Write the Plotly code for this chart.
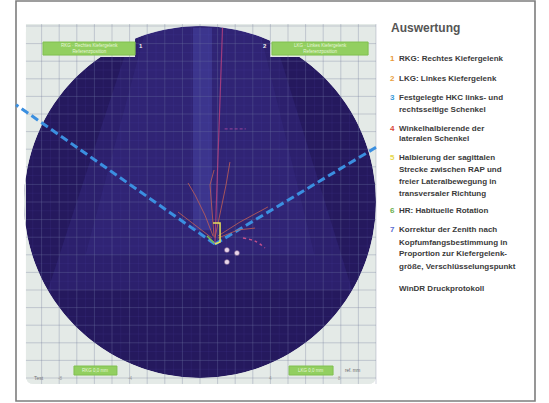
import numpy as np
import plotly.graph_objects as go

# ---------------- data (chart units = mm grid, disk centre at 0,0) ----------------
disk_radius = 10.0
grid_step = 1.0
fine_step = 0.5
panel_x = [-9.89, 10.0]
panel_y = [-10.34, 10.11]
cap_x = [-3.69, 3.98]            # top cap of disk between the label strips
strip_bottom_y = 8.24
vertex = [0.85, -2.39]            # RAP / arrow-point apex
hkc_angles_deg = [145.0, 31.0]    # left and right HKC legs
hkc_end_x = [-10.45, 10.0]
bisector_angle_deg = 88.0
bisector_length = 12.3

# chewing / lateral movement tracings
mov1_x = [0.85, 1.14, 1.48, 1.70]; mov1_y = [-2.05, -0.74, 0.97, 2.27]
mov2_x = [0.74, 0.28, -0.28, -0.68]; mov2_y = [-1.93, -0.74, 0.40, 1.08]
mov3_x = [0.68, -0.28, -1.25]; mov3_y = [-2.05, -1.31, -0.57]
mov4_x = [1.02, 2.27, 3.86]; mov4_y = [-1.93, -1.14, -0.28]
mov5_x = [1.02, 2.16, 3.13]; mov5_y = [-2.05, -1.59, -1.48]
mov6_x = [0.80, 0.68, 0.57, 0.80]; mov6_y = [-1.99, -0.45, 0.97, 1.82]
movements = [(mov1_x, mov1_y), (mov2_x, mov2_y), (mov3_x, mov3_y),
             (mov4_x, mov4_y), (mov5_x, mov5_y), (mov6_x, mov6_y)]

bracket_x = [0.74, 1.14, 1.14, 0.85]; bracket_y = [-1.19, -1.19, -2.27, -2.39]
hr_x = [0.40, 0.80]; hr_y = [-1.93, -2.33]
dots_x = [1.53, 1.53, 2.10]; dots_y = [-2.73, -3.41, -2.90]
curve_x = [2.44, 3.13, 3.69]; curve_y = [-2.05, -2.22, -2.61]
zenith_x = [1.4, 2.6]; zenith_y = [4.15, 4.15]

wedge_x = [-3.69, 3.98, 8.64, -8.64]; wedge_y = [10.11, 10.11, -5.0, -5.0]
wedge2_x = [-3.0, 3.3, 6.5, -6.5]; wedge2_y = [10.11, 10.11, -3.0, -3.0]
band_x = [-0.40, 0.68, 0.68, -0.40]; band_y = [9.9, 9.9, -1.6, -1.6]

label_boxes = [  # x0, x1, y0, y1
    (-8.92, -3.69, 8.35, 9.09), (4.09, 9.55, 8.35, 9.09),
    (-7.16, -4.72, -9.83, -9.32), (5.06, 7.56, -9.83, -9.32)]

legend_title = "Auswertung"
legend_items = [
    ("1", "#e8983a", ["RKG: Rechtes Kiefergelenk"]),
    ("2", "#e8a040", ["LKG: Linkes Kiefergelenk"]),
    ("3", "#3a9ad9", ["Festgelegte HKC links- und", "rechtsseitige Schenkel"]),
    ("4", "#d9453a", ["Winkelhalbierende der", "lateralen Schenkel"]),
    ("5", "#e6d84a", ["Halbierung der sagittalen", "Strecke zwischen RAP und",
                      "freier Lateralbewegung in", "transversaler Richtung"]),
    ("6", "#6ab04c", ["HR: Habituelle Rotation"]),
    ("7", "#5a6ad0", ["Korrektur der Zenith nach", "Kopfumfangsbestimmung in",
                      "Proportion zur Kiefergelenk-", "größe, Verschlüsselungspunkt"]),
]
legend_footer = "WinDR Druckprotokoll"
legend_line_y_px = [[59], [79], [98, 109], [128, 138], [157, 169, 181, 193], [211],
                    [230, 242, 254, 266]]

# ---------------- figure ----------------
W, H = 549, 403
PX = 17.6
cx_px, cy_px = 200, 202
xr = [-cx_px / PX, (W - cx_px) / PX]
yr = [(cy_px - H) / PX, cy_px / PX]

panel_col = "#e4eae7"
disk_col = "#25195e"

def rrect_path(x0, x1, y0, y1, r):
    return (f"M {x0+r},{y1} L {x1-r},{y1} Q {x1},{y1} {x1},{y1-r} L {x1},{y0+r} "
            f"Q {x1},{y0} {x1-r},{y0} L {x0+r},{y0} Q {x0},{y0} {x0},{y0+r} "
            f"L {x0},{y1-r} Q {x0},{y1} {x0+r},{y1} Z")

def circle_path(r, n=240):
    a = np.linspace(0, 2 * np.pi, n, endpoint=False)
    pts = [f"{r*np.cos(t):.4f},{r*np.sin(t):.4f}" for t in a]
    return "M " + " L ".join(pts) + " Z"

def poly_path(xs, ys):
    return "M " + " L ".join(f"{x},{y}" for x, y in zip(xs, ys)) + " Z"

def grid_path(xmin, xmax, ymin, ymax, step):
    segs = []
    for x in np.arange(np.ceil(xmin / step) * step, xmax + 1e-9, step):
        segs.append(f"M {x:.3f},{ymin} L {x:.3f},{ymax}")
    for y in np.arange(np.ceil(ymin / step) * step, ymax + 1e-9, step):
        segs.append(f"M {xmin},{y:.3f} L {xmax},{y:.3f}")
    return " ".join(segs)

shapes = []
# outer frame
shapes.append(dict(type="rect", xref="paper", yref="paper", x0=16/W, x1=535/W,
                   y0=1-401/H, y1=1-1/H, fillcolor="white",
                   line=dict(color="#7d7d7d", width=1.6), layer="below"))
# panel
shapes.append(dict(type="path", path=rrect_path(panel_x[0], panel_x[1], panel_y[0], panel_y[1], 0.45),
                   fillcolor=panel_col, line=dict(width=0), layer="below"))
# disk
shapes.append(dict(type="circle", x0=-disk_radius, x1=disk_radius, y0=-disk_radius, y1=disk_radius,
                   fillcolor=disk_col, line=dict(width=0), layer="below"))
# fine grid in disk
shapes.append(dict(type="path", path=grid_path(-9.85, 9.95, -9.95, 9.95, fine_step),
                   line=dict(color="rgba(80,75,170,0.25)", width=0.6), layer="below"))
# lighter wedge & band
shapes.append(dict(type="path", path=poly_path(wedge_x, wedge_y),
                   fillcolor="rgba(78,68,180,0.18)", line=dict(width=0), layer="below"))
shapes.append(dict(type="path", path=poly_path(wedge2_x, wedge2_y),
                   fillcolor="rgba(78,68,180,0.13)", line=dict(width=0), layer="below"))
shapes.append(dict(type="path", path=poly_path(band_x, band_y),
                   fillcolor="rgba(95,105,215,0.25)", line=dict(width=0), layer="below"))
# mask outside the disk
shapes.append(dict(type="path",
                   path=rrect_path(panel_x[0], panel_x[1], panel_y[0], panel_y[1], 0.45) + " " + circle_path(disk_radius),
                   fillrule="evenodd", fillcolor=panel_col, line=dict(width=0), layer="below"))
# top label strips
shapes.append(dict(type="rect", x0=panel_x[0], x1=cap_x[0], y0=strip_bottom_y, y1=panel_y[1],
                   fillcolor=panel_col, line=dict(width=0), layer="below"))
shapes.append(dict(type="rect", x0=cap_x[1], x1=panel_x[1], y0=strip_bottom_y, y1=panel_y[1],
                   fillcolor=panel_col, line=dict(width=0), layer="below"))
# major grid
shapes.append(dict(type="path", path=grid_path(panel_x[0], panel_x[1], panel_y[0], panel_y[1], grid_step),
                   line=dict(color="rgba(105,115,150,0.30)", width=1), layer="below"))
# green label boxes
for (x0, x1, y0, y1) in label_boxes:
    shapes.append(dict(type="rect", x0=x0, x1=x1, y0=y0, y1=y1, fillcolor="#92cf60",
                       line=dict(color="#80c050", width=1), layer="below"))

fig = go.Figure()

# HKC legs (blue dashed)
for ang, xe in zip(hkc_angles_deg, hkc_end_x):
    slope = np.tan(np.radians(ang))
    fig.add_trace(go.Scatter(x=[vertex[0], xe], y=[vertex[1], vertex[1] + slope * (xe - vertex[0])],
                             mode="lines", line=dict(color="#3b8fe0", width=3, dash="8px,4px"),
                             hoverinfo="skip"))
# bisector (4)
ba = np.radians(bisector_angle_deg)
fig.add_trace(go.Scatter(x=[vertex[0], vertex[0] + bisector_length * np.cos(ba)],
                         y=[vertex[1], vertex[1] + bisector_length * np.sin(ba)],
                         mode="lines", line=dict(color="rgba(205,70,130,0.7)", width=1.2),
                         hoverinfo="skip"))
# zenith mark (7)
fig.add_trace(go.Scatter(x=zenith_x, y=zenith_y, mode="lines",
                         line=dict(color="rgba(200,80,170,0.55)", width=1.2, dash="3px,2px"),
                         hoverinfo="skip"))
# movement tracings
for mx, my in movements:
    fig.add_trace(go.Scatter(x=mx, y=my, mode="lines",
                             line=dict(color="rgba(195,95,85,0.8)", width=1), hoverinfo="skip"))
# pink dotted curve
fig.add_trace(go.Scatter(x=curve_x, y=curve_y, mode="lines", line_shape="spline",
                         line=dict(color="#c4508c", width=1.5, dash="dot"), hoverinfo="skip"))
# HR (6)
fig.add_trace(go.Scatter(x=hr_x, y=hr_y, mode="lines", line=dict(color="#7cc050", width=1.5),
                         hoverinfo="skip"))
# bisection bracket (5)
fig.add_trace(go.Scatter(x=bracket_x, y=bracket_y, mode="lines",
                         line=dict(color="#e6e05a", width=1.5), hoverinfo="skip"))
# dots
fig.add_trace(go.Scatter(x=dots_x, y=dots_y, mode="markers",
                         marker=dict(size=5, color="#e8d6ea", line=dict(color="#6a4a7a", width=0.5)),
                         hoverinfo="skip"))

ann = []
FONT = "Liberation Sans, Arial, sans-serif"
def py2paper(py):
    return 1 - py / H

ann.append(dict(xref="paper", yref="paper", x=389/W, y=py2paper(28), text=f"<b>{legend_title}</b>",
                showarrow=False, xanchor="left", yanchor="middle",
                font=dict(family=FONT, size=12, color="#555555")))
for (num, col, lines), ys in zip(legend_items, legend_line_y_px):
    ann.append(dict(xref="paper", yref="paper", x=388/W, y=py2paper(ys[0]), text=f"<b>{num}</b>",
                    showarrow=False, xanchor="left", yanchor="middle",
                    font=dict(family=FONT, size=8, color=col)))
    for ln, yy in zip(lines, ys):
        ann.append(dict(xref="paper", yref="paper", x=397/W, y=py2paper(yy), text=f"<b>{ln}</b>",
                        showarrow=False, xanchor="left", yanchor="middle",
                        font=dict(family=FONT, size=8, color="#3a3a3a")))
ann.append(dict(xref="paper", yref="paper", x=397/W, y=py2paper(288), text=f"<b>{legend_footer}</b>",
                showarrow=False, xanchor="left", yanchor="middle",
                font=dict(family=FONT, size=8, color="#3a3a3a")))

# small texts in the label boxes and panel
box_texts = [("RKG · Rechtes Kiefergelenk<br>Referenzposition", label_boxes[0]),
             ("LKG · Linkes Kiefergelenk<br>Referenzposition", label_boxes[1]),
             ("RKG 0,0 mm", label_boxes[2]), ("LKG 0,0 mm", label_boxes[3])]
for t, (x0, x1, y0, y1) in box_texts:
    ann.append(dict(x=(x0 + x1) / 2, y=(y0 + y1) / 2, text=t, showarrow=False,
                    font=dict(family=FONT, size=4.5, color="#e6f6da")))
ann.append(dict(x=cap_x[0] + 0.35, y=8.86, text="<b>1</b>", showarrow=False,
                font=dict(family=FONT, size=6, color="#f0f0f0")))
ann.append(dict(x=cap_x[1] - 0.3, y=8.86, text="<b>2</b>", showarrow=False,
                font=dict(family=FONT, size=6, color="#f0f0f0")))
ann.append(dict(x=-9.55, y=-10.0, text="Test", showarrow=False, xanchor="left",
                font=dict(family=FONT, size=5, color="#777777")))
for xv, tv in zip([-7.95, -3.98, 3.98, 7.95], ["-8", "-4", "4", "8"]):
    ann.append(dict(x=xv, y=-10.0, text=tv, showarrow=False,
                    font=dict(family=FONT, size=4.5, color="#999999")))
ann.append(dict(x=8.7, y=-9.55, text="ref. mm", showarrow=False,
                font=dict(family=FONT, size=4.5, color="#666666")))

fig.update_layout(
    width=W, height=H, margin=dict(l=0, r=0, t=0, b=0),
    paper_bgcolor="white", plot_bgcolor="white", showlegend=False,
    xaxis=dict(range=xr, visible=False, fixedrange=True),
    yaxis=dict(range=yr, visible=False, fixedrange=True),
    shapes=shapes, annotations=ann,
)
fig.write_html("out.html", config={"displayModeBar": False},
               post_script="document.body.style.margin='0';document.body.style.overflow='hidden';")
